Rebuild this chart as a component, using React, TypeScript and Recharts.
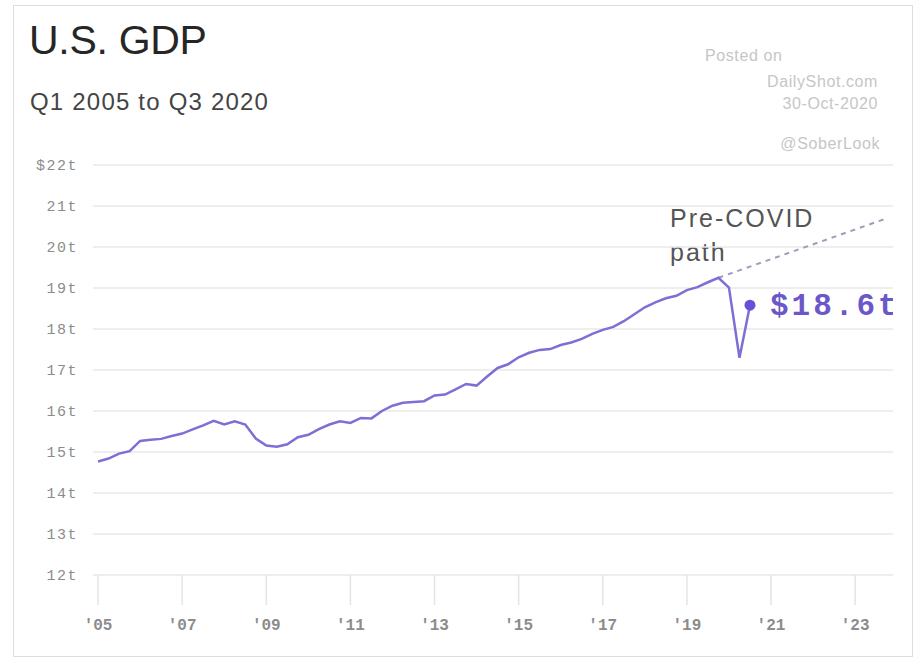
import React from "react";
import {
  LineChart,
  Line,
  XAxis,
  YAxis,
  CartesianGrid,
} from "recharts";

// Real GDP, trillions of chained dollars, quarterly from Q1 2005
const firstYear = 2005;
const gdpTrillions = [
  14.77, 14.84, 14.96, 15.02, // 2005
  15.27, 15.3, 15.32, 15.39, // 2006
  15.45, 15.55, 15.65, 15.76, // 2007
  15.67, 15.75, 15.67, 15.33, // 2008
  15.16, 15.13, 15.19, 15.36, // 2009
  15.42, 15.56, 15.67, 15.75, // 2010
  15.71, 15.83, 15.82, 16.0, // 2011
  16.13, 16.2, 16.22, 16.24, // 2012
  16.38, 16.4, 16.53, 16.66, // 2013
  16.62, 16.84, 17.05, 17.14, // 2014
  17.31, 17.42, 17.49, 17.51, // 2015
  17.61, 17.67, 17.76, 17.88, // 2016
  17.98, 18.05, 18.19, 18.36, // 2017
  18.53, 18.65, 18.75, 18.81, // 2018
  18.95, 19.02, 19.14, 19.25, // 2019
  19.01, 17.3, 18.58, // 2020
];

// Pre-COVID trend: from Q4 2019 out to Q4 2023
const trendYears = [2019.75, 2023.75];
const trendValues = [19.25, 20.7];

const yTicks = [12, 13, 14, 15, 16, 17, 18, 19, 20, 21, 22];
const xTicks = [2005, 2007, 2009, 2011, 2013, 2015, 2017, 2019, 2021, 2023];

const gdpData = gdpTrillions.map((v, i) => ({ t: firstYear + i * 0.25, v }));
const trendData = trendYears.map((t, i) => ({ t, v: trendValues[i] }));

const PURPLE = "#7c70d4";
const DOT = "#6a50d6";
const MONO = "'Liberation Mono', 'DejaVu Sans Mono', monospace";
const SANS = "'Liberation Sans', Arial, sans-serif";

function LastPoint(props: any) {
  const { cx, cy, index, payload } = props;
  if (index !== gdpData.length - 1) return <g key={`d${index}`} />;
  return (
    <g key={`d${index}`}>
      <circle cx={cx} cy={cy} r={5.5} fill={DOT} />
      <text
        x={cx + 20}
        y={cy + 10}
        fill="#6b57c9"
        fontFamily={MONO}
        fontSize={31}
        fontWeight={700}
        letterSpacing={3}
      >
        {`$${payload.v.toFixed(1)}t`}
      </text>
    </g>
  );
}

const creditStyle: React.CSSProperties = {
  position: "absolute",
  fontFamily: SANS,
  fontSize: 16,
  color: "#c6c6c6",
  letterSpacing: 0.6,
  whiteSpace: "nowrap",
};

export default function App() {
  return (
    <div
      style={{
        position: "absolute",
        left: 0,
        top: 0,
        width: 918,
        height: 662,
        background: "#fff",
        overflow: "hidden",
      }}
    >
      <div
        style={{
          position: "absolute",
          left: 13,
          top: 5,
          width: 898,
          height: 650,
          border: "1.5px solid #dedede",
        }}
      />
      <div
        style={{
          position: "absolute",
          left: 29,
          top: 17,
          fontFamily: SANS,
          fontSize: 41,
          color: "#262626",
          letterSpacing: -0.3,
        }}
      >
        U.S. GDP
      </div>
      <div
        style={{
          position: "absolute",
          left: 30,
          top: 88,
          fontFamily: SANS,
          fontSize: 24,
          color: "#444",
          letterSpacing: 1.2,
        }}
      >
        Q1 2005 to Q3 2020
      </div>
      <div style={{ ...creditStyle, left: 705, top: 47 }}>Posted on</div>
      <div style={{ ...creditStyle, right: 40, top: 73, textAlign: "right" }}>
        DailyShot.com
      </div>
      <div style={{ ...creditStyle, right: 40, top: 95, textAlign: "right" }}>
        30-Oct-2020
      </div>
      <div style={{ ...creditStyle, right: 38, top: 135, textAlign: "right" }}>
        @SoberLook
      </div>
      <div
        style={{
          position: "absolute",
          left: 670,
          top: 201,
          fontFamily: SANS,
          fontSize: 25,
          color: "#555",
          letterSpacing: 2,
          lineHeight: "34px",
        }}
      >
        Pre-COVID
        <br />
        path
      </div>
      <div style={{ position: "absolute", left: 0, top: 0 }}>
        <LineChart
          width={918}
          height={662}
          margin={{ top: 165, right: 25, bottom: 27, left: 0 }}
        >
          <CartesianGrid
            horizontal
            vertical={false}
            stroke="#e8e8e8"
            strokeWidth={1.5}
          />
          <XAxis
            dataKey="t"
            type="number"
            domain={[2004.88, 2023.9]}
            ticks={xTicks}
            allowDataOverflow
            height={60}
            axisLine={false}
            tickSize={30}
            tickMargin={14}
            tickLine={{ stroke: "#e4e4e4", strokeWidth: 1.5 }}
            tickFormatter={(y: number) => `'${String(y).slice(2)}`}
            tick={{
              fill: "#8c8c8c",
              fontFamily: MONO,
              fontSize: 16,
              fontWeight: 700,
            }}
          />
          <YAxis
            type="number"
            domain={[12, 22]}
            ticks={yTicks}
            width={93}
            axisLine={false}
            tickLine={false}
            tickSize={0}
            tickMargin={15}
            tickFormatter={(v: number) => (v === 22 ? `$${v}t` : `${v}t`)}
            tick={{
              fill: "#8c8c8c",
              fontFamily: MONO,
              fontSize: 15,
              letterSpacing: 1.5,
            }}
          />
          <Line
            data={trendData}
            dataKey="v"
            type="linear"
            stroke="#a29bb8"
            strokeWidth={2}
            strokeDasharray="5 5"
            dot={false}
            isAnimationActive={false}
          />
          <Line
            data={gdpData}
            dataKey="v"
            type="linear"
            stroke={PURPLE}
            strokeWidth={2.5}
            dot={LastPoint}
            activeDot={false}
            isAnimationActive={false}
          />
        </LineChart>
      </div>
    </div>
  );
}
